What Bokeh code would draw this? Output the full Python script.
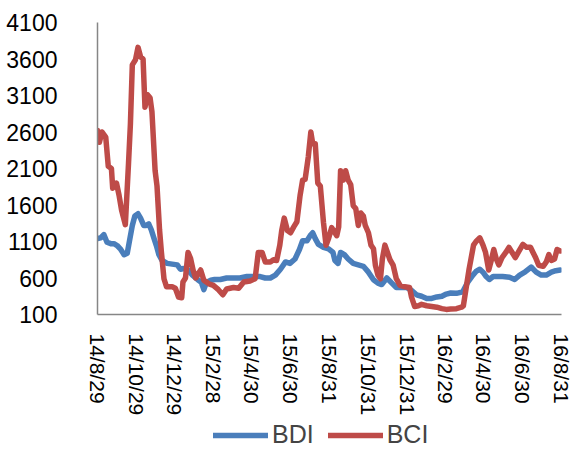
from bokeh.plotting import figure
from bokeh.layouts import column
from bokeh.models import Range1d, FixedTicker, Legend, LegendItem
from bokeh.embed import file_html
from bokeh.resources import INLINE

# Tick labels (day offsets from 2014-08-29)
tick_days = [0, 61, 122, 183, 244, 305, 367, 428, 489, 549, 610, 671, 733]
tick_labels = ["14/8/29", "14/10/29", "14/12/29", "15/2/28", "15/4/30", "15/6/30",
               "15/8/31", "15/10/31", "15/12/31", "16/2/29", "16/4/30", "16/6/30", "16/8/31"]
y_ticks = [100, 600, 1100, 1600, 2100, 2600, 3100, 3600, 4100]

# BDI series (day offset, value)
bdi_day = [0, 5, 10, 15, 21, 26, 31, 36, 42, 47, 51, 55, 59, 64, 68, 73, 77, 81, 85, 89,
           93, 97, 102, 110, 118, 126, 131, 136, 142, 150, 158, 164, 168, 172, 179, 185,
           194, 204, 215, 225, 236, 246, 257, 265, 273, 281, 289, 297, 304, 312, 319, 324,
           331, 336, 340, 344, 349, 357, 365, 372, 375, 380, 384, 390, 396, 404, 412, 420,
           428, 436, 443, 449, 457, 465, 472, 480, 488, 496, 504, 512, 520, 528, 536, 544,
           551, 558, 567, 577, 585, 593, 598, 604, 609, 614, 619, 625, 632, 640, 651, 659,
           667, 675, 685, 693, 701, 709, 717, 724, 731]
bdi_val = [1140, 1150, 1195, 1090, 1070, 1070, 1045, 1000, 920, 940, 1130, 1320, 1450, 1480,
           1420, 1320, 1320, 1340, 1260, 1150, 1045, 920, 840, 800, 790, 780, 720, 730, 720,
           640, 580, 540, 440, 540, 570, 580, 580, 600, 600, 600, 620, 620, 620, 600, 600,
           640, 720, 820, 800, 860, 990, 1110, 1110, 1180, 1220, 1140, 1060, 1020, 1000, 950,
           840, 800, 950, 920, 860, 800, 780, 760, 680, 575, 530, 510, 600, 530, 470, 470,
           470, 430, 370, 350, 320, 320, 340, 350, 380, 395, 390, 410, 545, 640, 690, 720,
           680, 620, 580, 620, 620, 620, 610, 580, 640, 680, 750, 680, 640, 640, 680, 700, 710]

# BCI series (day offset, value)
bci_day = [0, 3, 7, 13, 17, 22, 24, 30, 34, 38, 44, 49, 52, 55, 60, 64, 68, 72, 75, 79,
           83, 86, 91, 94, 98, 101, 105, 109, 118, 123, 128, 133, 135, 139, 143, 147, 151,
           155, 163, 168, 176, 183, 191, 198, 204, 215, 223, 231, 241, 249, 254, 260, 265,
           273, 278, 283, 288, 291, 295, 300, 305, 310, 315, 320, 324, 328, 333, 337, 340,
           344, 348, 352, 357, 361, 365, 370, 378, 381, 384, 388, 392, 396, 400, 404, 408,
           412, 416, 420, 423, 428, 432, 436, 439, 443, 447, 450, 454, 458, 462, 467, 472,
           478, 485, 493, 496, 501, 507, 512, 520, 528, 536, 544, 551, 558, 567, 575, 578,
           583, 587, 590, 594, 598, 604, 609, 613, 618, 622, 626, 630, 634, 639, 645, 650,
           655, 660, 666, 672, 678, 684, 688, 692, 697, 704, 709, 713, 717, 722, 726, 731]
bci_val = [2620, 2460, 2600, 2530, 2130, 2100, 1830, 1900, 1735, 1530, 1330, 2170, 2710,
           3520, 3590, 3760, 3630, 3600, 2940, 3110, 3070, 2880, 2070, 1860, 1260, 950, 590,
           480, 480, 460, 340, 330, 545, 600, 950, 870, 710, 600, 710, 570, 520, 500, 440,
           370, 450, 470, 460, 545, 560, 590, 950, 950, 820, 820, 850, 840, 1050, 1250, 1420,
           1250, 1220, 1300, 1370, 1730, 1940, 1950, 2260, 2600, 2440, 2440, 1900, 1860, 1360,
           1050, 1140, 1290, 1180, 1300, 2070, 1940, 2070, 1940, 1880, 1590, 1550, 1320, 1490,
           1450, 1320, 1220, 1050, 1000, 775, 640, 590, 860, 1050, 950, 850, 775, 590, 500,
           480, 470, 340, 210, 220, 240, 220, 210, 200, 180, 170, 175, 180, 200, 220, 500,
           720, 860, 1050, 1100, 1150, 1050, 950, 710, 840, 990, 860, 780, 880, 950, 1020,
           950, 880, 970, 1060, 1020, 1020, 950, 880, 775, 760, 820, 920, 840, 860, 990, 970]

series_names = ["BDI", "BCI"]
BLUE = "#4A7EBB"
RED = "#BE4B48"
FONT = "Liberation Sans"
LW = 5.5

p = figure(width=572, height=418, output_backend="svg", toolbar_location=None,
           x_range=Range1d(0, 733), y_range=Range1d(100, 4100),
           min_border_left=97, min_border_right=11, min_border_top=22, min_border_bottom=100)
p.outline_line_color = None
p.xgrid.grid_line_color = None
p.ygrid.grid_line_color = None

p.line(bdi_day, bdi_val, line_color=BLUE, line_width=LW, line_join="round", line_cap="round")
p.line(bci_day, bci_val, line_color=RED, line_width=LW, line_join="round", line_cap="round")

p.yaxis.ticker = FixedTicker(ticks=y_ticks)
p.xaxis.ticker = FixedTicker(ticks=tick_days)
p.xaxis.major_label_overrides = {d: l for d, l in zip(tick_days, tick_labels)}
p.xaxis.major_label_orientation = "vertical"

for ax in (p.xaxis[0], p.yaxis[0]):
    ax.axis_line_color = "#868686"
    ax.axis_line_width = 1.5
    ax.major_tick_line_color = None
    ax.minor_tick_line_color = None
    ax.major_label_text_font = FONT
    ax.major_label_text_color = "#000000"
p.yaxis.major_label_text_font_size = "23px"
p.yaxis.major_label_standoff = 34
p.xaxis.major_label_text_font_size = "21px"
p.xaxis.major_label_standoff = 13

# Legend strip below the chart (its own view range shows none of the data,
# the series are only used as legend swatches)
lf = figure(width=572, height=31, output_backend="svg", toolbar_location=None,
            x_range=Range1d(-2, -1), y_range=Range1d(-2, -1),
            x_axis_type=None, y_axis_type=None,
            min_border_left=0, min_border_right=0, min_border_top=0, min_border_bottom=0)
lf.outline_line_color = None
lr1 = lf.line(bdi_day, bdi_val, line_color=BLUE, line_width=LW, line_cap="round")
lr2 = lf.line(bci_day, bci_val, line_color=RED, line_width=LW, line_cap="round")
legend = Legend(items=[LegendItem(label=series_names[0], renderers=[lr1]),
                       LegendItem(label=series_names[1], renderers=[lr2])],
                location=(116, 0), orientation="horizontal",
                glyph_width=55, glyph_height=20, label_standoff=4, spacing=14,
                padding=0, margin=0, border_line_color=None, background_fill_alpha=0,
                label_text_font=FONT, label_text_font_size="25px")
lf.add_layout(legend, "center")

layout = column(p, lf, spacing=0)
open("out.html", "w").write(file_html(layout, INLINE))
